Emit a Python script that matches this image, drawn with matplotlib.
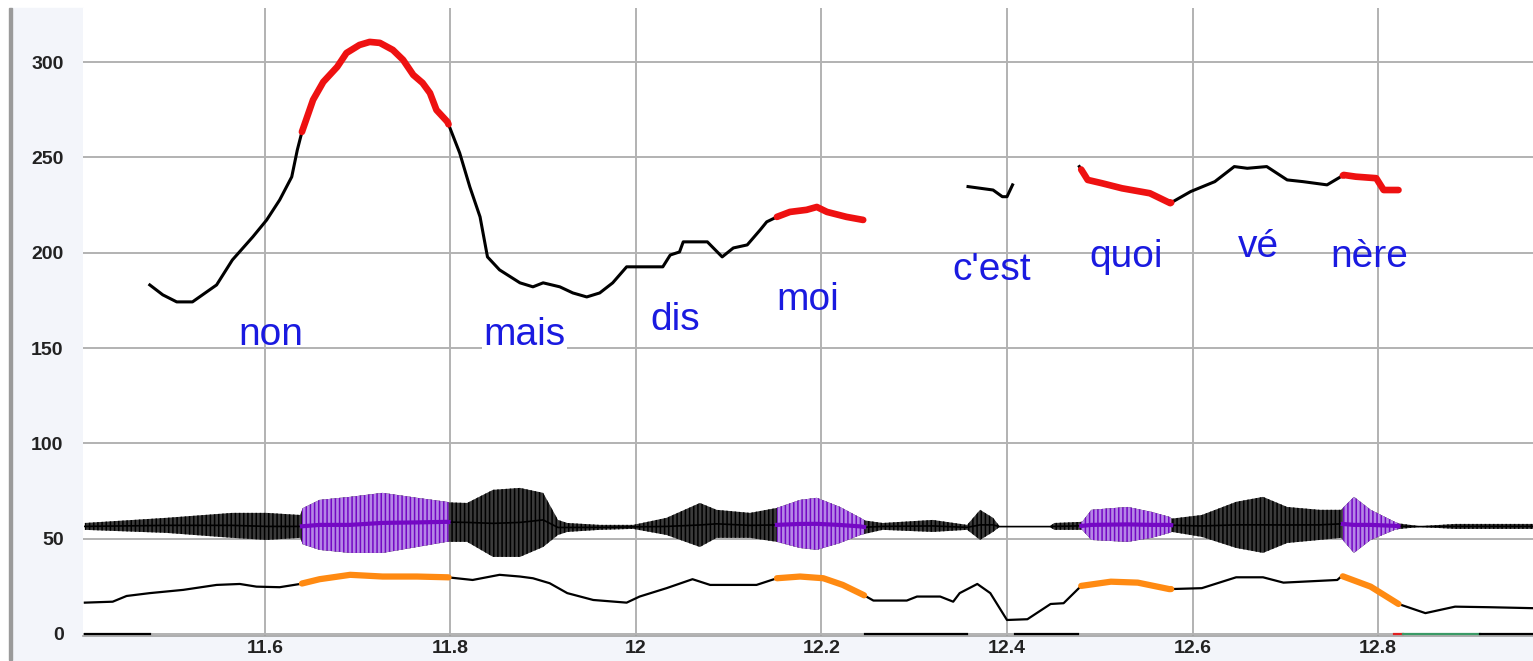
import numpy as np
import matplotlib
matplotlib.use("Agg")
import matplotlib.pyplot as plt
from matplotlib.patches import Rectangle

# pitch contour (Hz), three voiced stretches
pitch_t1 = [11.476, 11.490, 11.505, 11.522, 11.548, 11.565, 11.587, 11.602, 11.616, 11.629,
            11.635, 11.640, 11.652, 11.663, 11.678, 11.688, 11.702, 11.713, 11.724, 11.738,
            11.749, 11.760, 11.770, 11.778, 11.785, 11.797, 11.810, 11.821, 11.832, 11.840,
            11.853, 11.875, 11.889, 11.900, 11.918, 11.932, 11.947, 11.961, 11.975, 11.990,
            12.029, 12.037, 12.047, 12.051, 12.077, 12.093, 12.105, 12.120, 12.134, 12.141,
            12.152, 12.166, 12.184, 12.195, 12.206, 12.227, 12.245]
pitch_f1 = [183.1, 177.9, 174.2, 174.2, 183.1, 196.2, 208.3, 217.2, 227.7, 239.8,
            253.9, 263.4, 280.2, 289.6, 297.5, 304.8, 309.0, 310.6, 310.1, 306.4,
            301.2, 293.3, 289.1, 283.8, 274.9, 268.6, 252.4, 234.5, 218.8, 197.8,
            191.0, 184.2, 182.1, 184.2, 182.1, 178.9, 176.8, 178.9, 184.2, 192.6,
            192.6, 198.8, 200.4, 205.7, 205.7, 197.8, 202.5, 204.1, 212.0, 216.2,
            218.8, 221.4, 222.5, 224.0, 221.4, 218.8, 217.2]
pitch_t2 = [12.358, 12.385, 12.395, 12.400, 12.406]
pitch_f2 = [234.7, 232.9, 229.4, 229.4, 235.6]
pitch_t3 = [12.478, 12.487, 12.502, 12.524, 12.554, 12.576, 12.598, 12.624, 12.645, 12.659,
            12.680, 12.702, 12.719, 12.745, 12.763, 12.776, 12.798, 12.806, 12.822]
pitch_f3 = [245.2, 238.2, 236.5, 233.8, 231.2, 226.0, 232.1, 237.3, 245.2, 244.3,
            245.2, 238.2, 237.3, 235.6, 240.8, 239.9, 239.1, 232.9, 232.9]

# vowel nuclei (highlighted stretches)
vowel_start = [11.640, 12.152, 12.480, 12.762]
vowel_end = [11.798, 12.246, 12.577, 12.822]

# waveform envelope (drawn around ~56)
wave_t = [11.406, 11.494, 11.565, 11.602, 11.638, 11.641, 11.659, 11.692, 11.727, 11.764,
          11.796, 11.799, 11.818, 11.846, 11.875, 11.900, 11.916, 11.926, 11.961, 11.997,
          12.033, 12.069, 12.087, 12.123, 12.152, 12.177, 12.195, 12.220, 12.242, 12.247,
          12.266, 12.320, 12.357, 12.371, 12.385, 12.392, 12.446, 12.451, 12.481, 12.491,
          12.530, 12.556, 12.575, 12.578, 12.610, 12.647, 12.676, 12.702, 12.737, 12.760,
          12.774, 12.792, 12.818, 12.822, 12.845, 12.883, 12.967]
wave_top = [58.2, 60.9, 63.5, 63.5, 62.4, 66.0, 70.3, 71.9, 74.0, 71.4,
            69.3, 69.0, 68.7, 75.6, 76.6, 74.0, 59.8, 58.2, 57.2, 57.2,
            60.9, 68.7, 65.1, 63.5, 66.1, 70.3, 71.4, 66.6, 60.9, 59.5,
            58.2, 59.8, 57.2, 65.1, 60.9, 56.5, 56.5, 58.2, 58.8, 65.1,
            66.6, 64.0, 61.4, 60.5, 62.4, 69.3, 71.9, 66.6, 65.1, 65.1,
            71.9, 65.1, 58.8, 58.0, 56.5, 57.7, 57.7]
wave_bot = [54.6, 53.0, 50.4, 49.3, 50.4, 47.0, 44.1, 42.5, 42.5, 45.6,
            48.3, 48.3, 48.3, 40.4, 40.4, 45.6, 51.9, 53.5, 54.6, 55.1,
            51.9, 45.6, 50.4, 50.4, 48.3, 45.1, 44.1, 47.7, 51.9, 52.5,
            54.6, 53.5, 54.6, 49.3, 53.5, 56.1, 56.1, 54.6, 54.6, 49.3,
            48.3, 50.4, 53.0, 53.5, 50.9, 45.1, 42.5, 47.7, 49.3, 50.4,
            42.5, 49.3, 54.6, 55.0, 56.1, 55.1, 55.1]

# intensity curve
inten_t = [11.406, 11.436, 11.451, 11.476, 11.512, 11.548, 11.573, 11.591, 11.616, 11.638,
           11.659, 11.692, 11.727, 11.764, 11.797, 11.824, 11.853, 11.875, 11.889, 11.907,
           11.926, 11.954, 11.990, 12.004, 12.033, 12.061, 12.080, 12.130, 12.152, 12.177,
           12.202, 12.223, 12.245, 12.256, 12.292, 12.303, 12.328, 12.342, 12.349, 12.368,
           12.382, 12.400, 12.422, 12.447, 12.461, 12.480, 12.512, 12.541, 12.575, 12.610,
           12.647, 12.676, 12.698, 12.756, 12.761, 12.792, 12.822, 12.851, 12.883, 12.920,
           12.967]
inten_v = [16.4, 16.9, 19.9, 21.4, 23.1, 25.7, 26.2, 24.8, 24.5, 26.2,
           28.7, 31.0, 30.1, 30.1, 29.7, 28.3, 31.0, 30.1, 29.2, 26.6,
           21.4, 17.8, 16.4, 19.6, 24.0, 28.7, 25.7, 25.7, 29.2, 30.1,
           29.2, 25.7, 20.5, 17.5, 17.5, 19.6, 19.6, 16.9, 21.4, 26.2,
           21.4, 7.3, 7.7, 15.7, 16.1, 25.2, 27.4, 26.9, 23.5, 24.0,
           29.7, 29.7, 26.9, 28.3, 30.4, 24.8, 15.7, 10.9, 14.3, 14.0,
           13.5]

# markers along the bottom
mark_start = [11.406, 12.247, 12.409, 12.817, 12.827, 12.910]
mark_end = [11.476, 12.357, 12.477, 12.827, 12.910, 12.967]
mark_color = ['black', 'black', 'black', '#e02020', '#3a9a66', 'black']

words = ['non', 'mais', 'dis', 'moi', "c'est", 'quoi', 'vé', 'nère']
word_t = [11.606, 11.880, 12.042, 12.185, 12.384, 12.528, 12.671, 12.791]
word_y = [151.6, 151.6, 159.5, 170.0, 185.7, 192.7, 197.6, 192.7]

x_ticks = [11.6, 11.8, 12.0, 12.2, 12.4, 12.6, 12.8]
x_labels = ['11.6', '11.8', '12', '12.2', '12.4', '12.6', '12.8']
y_ticks = [0, 50, 100, 150, 200, 250, 300]


def clip(t, v, s, e):
    t = np.asarray(t)
    inner = t[(t > s) & (t < e)]
    ts = np.concatenate([[s], inner, [e]])
    return ts, np.interp(ts, t, v)


W, H = 1533, 661
fig = plt.figure(figsize=(W / 100, H / 100), dpi=100, facecolor='white')

# light panels around the plot (behind the axes)
panel = '#f3f5fa'
fig.patches.append(Rectangle((10 / W, 1 - 660 / H), 73 / W, 652 / H,
                             transform=fig.transFigure, color=panel, zorder=-2))
fig.patches.append(Rectangle((10 / W, 1 - 660 / H), 1523 / W, 24 / H,
                             transform=fig.transFigure, color=panel, zorder=-2))
fig.patches.append(Rectangle((9 / W, 1 - 660 / H), 2.5 / W, 652 / H,
                             transform=fig.transFigure, color='#9a9a9a', zorder=-1))

ax = fig.add_axes([83 / W, 1 - 636 / H, 1450 / W, 628 / H])
ax.set_facecolor('white')
ax.set_xlim(11.404, 12.967)
ax.set_ylim(-1.1, 328.4)

ax.set_xticks(x_ticks)
ax.set_xticklabels(x_labels)
ax.set_yticks(y_ticks)
ax.grid(True, color='#b2b2b2', lw=1.4)
ax.set_axisbelow(True)
for side in ['left', 'top', 'right']:
    ax.spines[side].set_visible(False)
ax.spines['bottom'].set_color('#a0a0a0')
ax.spines['bottom'].set_linewidth(1.2)
tick_font = dict(family=['Liberation Sans', 'DejaVu Sans'], weight='bold', size=14)
ax.tick_params(axis='both', length=0, colors='#222222')
ax.tick_params(axis='y', pad=14)
ax.tick_params(axis='x', pad=3)
for lab in ax.get_xticklabels() + ax.get_yticklabels():
    lab.set_fontproperties(tick_font)
    lab.set_color('#222222')

plt.rcParams['hatch.linewidth'] = 1.1

# waveform
ax.fill_between(wave_t, wave_bot, wave_top, facecolor='#3a3a3a', edgecolor='black',
                hatch='||||', lw=0, zorder=2)
wave_mid = (np.array(wave_top) + np.array(wave_bot)) / 2
ax.plot(wave_t, wave_mid, color='black', lw=1.2, zorder=2)
for s, e in zip(vowel_start, vowel_end):
    ts, top = clip(wave_t, wave_top, s, e)
    _, bot = clip(wave_t, wave_bot, s, e)
    ax.fill_between(ts, bot, top, facecolor='#b586e6', edgecolor='#7408c4',
                    hatch='||||', lw=0, zorder=3)
    ax.plot(ts, (top + bot) / 2, color='#7408c4', lw=3, zorder=3)

# intensity
ax.plot(inten_t, inten_v, color='black', lw=1.6, zorder=4)
for s, e in zip(vowel_start, vowel_end):
    ts, vs = clip(inten_t, inten_v, s, e)
    ax.plot(ts, vs, color='#ff8a12', lw=4.5, solid_capstyle='round', zorder=5)

# pitch
for t, f in [(pitch_t1, pitch_f1), (pitch_t2, pitch_f2), (pitch_t3, pitch_f3)]:
    ax.plot(t, f, color='black', lw=2.2, zorder=6)
    for s, e in zip(vowel_start, vowel_end):
        lo, hi = max(s, t[0]), min(e, t[-1])
        if hi > lo:
            ts, fs = clip(t, f, lo, hi)
            ax.plot(ts, fs, color='#ee1111', lw=4.8, solid_capstyle='round', zorder=7)

# bottom markers
for s, e, c in zip(mark_start, mark_end, mark_color):
    ax.plot([s, e], [0, 0], color=c, lw=1.6, zorder=4, clip_on=False)

# words
for w, t, y in zip(words, word_t, word_y):
    kw = {}
    if w == 'mais':
        kw['bbox'] = dict(facecolor='white', edgecolor='none', pad=1)
    ax.text(t, y, w, ha='center', va='baseline', fontsize=28, color='#1a1ae0',
            family=['Liberation Sans', 'DejaVu Sans'], zorder=8, **kw)

fig.savefig('out.png', dpi=100, facecolor='white')
